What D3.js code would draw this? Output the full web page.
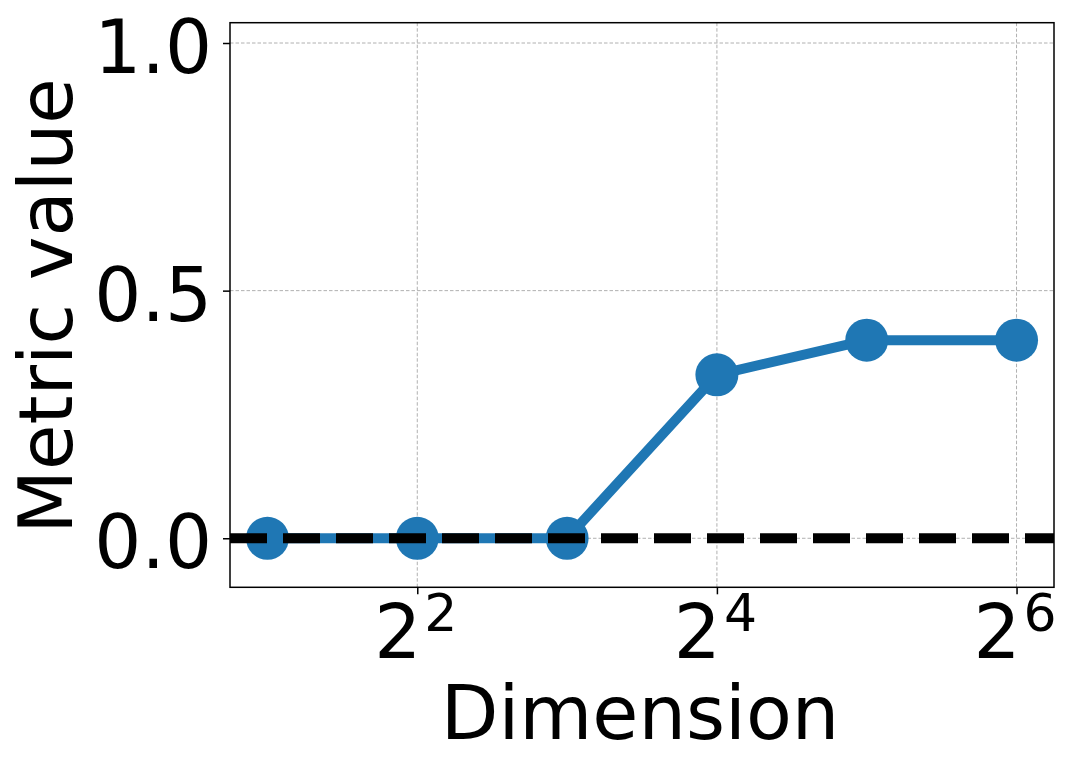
<!DOCTYPE html>
<html lang="en">
<head>
<meta charset="UTF-8">
<title>Metric value vs dimension</title>
<script src="https://cdn.jsdelivr.net/npm/d3@7"></script>
<style>
    body { margin: 0; background: #fff; }
    text { font-family: "DejaVu Sans", sans-serif; fill: #000; }
    .axis path, .axis line { stroke: #000; }
</style>
</head>
<body>
<div id="svgcontainer"></div>
<script>
    // data
    const dimensions = [2, 4, 8, 16, 32, 64];
    const metricValues = [0, 0, 0, 0.33, 0.40, 0.40];
    const xTickValues = [4, 16, 64];
    const yTickValues = [0.0, 0.5, 1.0];
    const baselineValue = 0;

    const width = 1074;
    const height = 771;
    const LEFT = 230, RIGHT = 1054, TOP = 22.7, BOTTOM = 587.3;
    const FONT = 74;
    const BLUE = "#1f77b4";

    const svg = d3.select("#svgcontainer")
        .append("svg")
        .attr("width", width)
        .attr("height", height);

    const x = d3.scaleLog().base(2)
        .domain([Math.pow(2, 0.75), Math.pow(2, 6.25)])
        .range([LEFT, RIGHT]);

    const y = d3.scaleLinear()
        .domain([-0.099, 1.041])
        .range([BOTTOM, TOP]);

    // grid
    const grid = svg.append("g");
    grid.selectAll("line.gx")
        .data(xTickValues)
        .enter().append("line")
        .attr("x1", d => x(d)).attr("x2", d => x(d))
        .attr("y1", TOP).attr("y2", BOTTOM);
    grid.selectAll("line.gy")
        .data(yTickValues)
        .enter().append("line")
        .attr("x1", LEFT).attr("x2", RIGHT)
        .attr("y1", d => y(d)).attr("y2", d => y(d));
    grid.selectAll("line")
        .attr("stroke", "#b0b0b0")
        .attr("stroke-width", 1)
        .attr("stroke-dasharray", "3.5,2");

    // series
    const points = dimensions.map((d, i) => ({dim: d, val: metricValues[i]}));

    svg.append("path")
        .datum(points)
        .attr("fill", "none")
        .attr("stroke", BLUE)
        .attr("stroke-width", 10)
        .attr("stroke-linejoin", "round")
        .attr("d", d3.line().x(d => x(d.dim)).y(d => y(d.val)));

    svg.selectAll("circle.pt")
        .data(points)
        .enter().append("circle")
        .attr("class", "pt")
        .attr("cx", d => x(d.dim))
        .attr("cy", d => y(d.val))
        .attr("r", 21.5)
        .attr("fill", BLUE);

    // dashed reference line
    svg.append("line")
        .attr("x1", LEFT).attr("x2", RIGHT)
        .attr("y1", y(baselineValue)).attr("y2", y(baselineValue))
        .attr("stroke", "#000")
        .attr("stroke-width", 10)
        .attr("stroke-dasharray", "37,16");

    // frame
    svg.append("rect")
        .attr("x", LEFT).attr("y", TOP)
        .attr("width", RIGHT - LEFT).attr("height", BOTTOM - TOP)
        .attr("fill", "none")
        .attr("stroke", "#000")
        .attr("stroke-width", 1.5);

    // y axis
    const yAxis = svg.append("g")
        .attr("class", "axis")
        .attr("transform", "translate(" + LEFT + ",0)")
        .call(d3.axisLeft(y).tickValues(yTickValues).tickFormat(d3.format(".1f")).tickSize(7).tickPadding(11));
    yAxis.select(".domain").remove();
    yAxis.selectAll("line").attr("stroke-width", 1.5);
    yAxis.selectAll("text")
        .style("font-size", FONT + "px")
        .attr("dy", "0.4em");

    // x axis, labels drawn as 2^n
    const xAxis = svg.append("g")
        .attr("class", "axis")
        .attr("transform", "translate(0," + BOTTOM + ")")
        .call(d3.axisBottom(x).tickValues(xTickValues).tickFormat("").tickSize(7));
    xAxis.select(".domain").remove();
    xAxis.selectAll("line").attr("stroke-width", 1.5);
    xAxis.selectAll(".tick").each(function (d) {
        const t = d3.select(this).append("text")
            .attr("x", -2)
            .attr("y", 71)
            .attr("text-anchor", "middle")
            .style("font-size", FONT + "px");
        t.append("tspan").text("2");
        t.append("tspan")
            .attr("dx", 3)
            .attr("dy", -27)
            .style("font-size", "52px")
            .text(Math.round(Math.log2(d)));
    });

    // axis labels
    svg.append("text")
        .attr("x", 640)
        .attr("y", 739)
        .attr("text-anchor", "middle")
        .style("font-size", "75px")
        .text("Dimension");

    svg.append("text")
        .attr("transform", "translate(72," + 306 + ") rotate(-90)")
        .attr("text-anchor", "middle")
        .style("font-size", FONT + "px")
        .text("Metric value");
</script>
</body>
</html>
